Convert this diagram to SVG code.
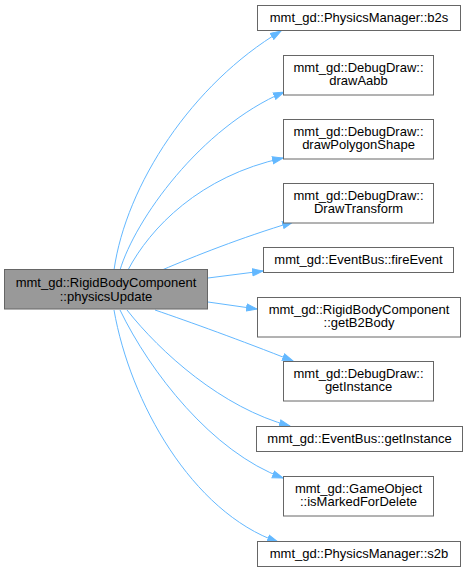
<svg xmlns="http://www.w3.org/2000/svg" width="468" height="572" viewBox="0 0 468 572">
<style>
.bg{fill:#ffffff}
.n rect{fill:#ffffff;stroke:#666666;stroke-width:1}
.n.main rect{fill:#999999}
.n text{font-family:"Liberation Sans",Arial,sans-serif;font-size:13px;fill:#000000;text-anchor:middle}
.e path{fill:none;stroke:#63b8ff;stroke-width:1;marker-end:url(#ah)}
</style>
<defs>
<marker id="ah" markerUnits="userSpaceOnUse" markerWidth="12" markerHeight="9" refX="11" refY="4" orient="auto" viewBox="0 0 12 8">
<path d="M0.5,0.5 L11,4 L0.5,7.5 Z" fill="#63b8ff" stroke="#63b8ff" stroke-width="1"/>
</marker>
</defs>
<rect class="bg" x="0" y="0" width="468" height="572"/>
<g id="connectors" class="e">
<path d="M114,270 C126,185 192,84 281,31"/>
<path d="M120,270 C135,220 200,128 284,92"/>
<path d="M128,270 C150,228 200,176 283,158"/>
<path d="M162,270 C195,256 240,238 293,222"/>
<path d="M208,278 L263,271"/>
<path d="M208,302 L257,309"/>
<path d="M155,310 C190,322 240,340 293,361"/>
<path d="M127,310 C160,352 222,408 290,426"/>
<path d="M120,310 C150,372 212,452 283,478"/>
<path d="M114,310 C130,402 192,512 278,542"/>
</g>
<g id="n_main" class="n main"><rect x="4.5" y="269.5" width="203" height="39.5"/><text x="106" y="287">mmt_gd::RigidBodyComponent</text><text x="106" y="300.5">::physicsUpdate</text></g>
<g id="n_b2s" class="n"><rect x="257.5" y="5.5" width="203" height="25"/><text x="359" y="22">mmt_gd::PhysicsManager::b2s</text></g>
<g id="n_drawAabb" class="n"><rect x="283.5" y="55.5" width="150" height="39.5"/><text x="358.5" y="71.5">mmt_gd::DebugDraw::</text><text x="358.5" y="85">drawAabb</text></g>
<g id="n_drawPolygonShape" class="n"><rect x="283.5" y="119.5" width="150" height="39.5"/><text x="358.5" y="135.5">mmt_gd::DebugDraw::</text><text x="358.5" y="149">drawPolygonShape</text></g>
<g id="n_DrawTransform" class="n"><rect x="283.5" y="183.5" width="150" height="39.5"/><text x="358.5" y="199.5">mmt_gd::DebugDraw::</text><text x="358.5" y="213">DrawTransform</text></g>
<g id="n_fireEvent" class="n"><rect x="263.5" y="247.5" width="190" height="25"/><text x="358.5" y="264">mmt_gd::EventBus::fireEvent</text></g>
<g id="n_getB2Body" class="n"><rect x="257.5" y="297.5" width="203" height="39.5"/><text x="359" y="313.5">mmt_gd::RigidBodyComponent</text><text x="359" y="327">::getB2Body</text></g>
<g id="n_dd_getInstance" class="n"><rect x="283.5" y="361.5" width="150" height="39.5"/><text x="358.5" y="377.5">mmt_gd::DebugDraw::</text><text x="358.5" y="391">getInstance</text></g>
<g id="n_eb_getInstance" class="n"><rect x="256.5" y="426.5" width="206" height="25"/><text x="359.5" y="443">mmt_gd::EventBus::getInstance</text></g>
<g id="n_isMarkedForDelete" class="n"><rect x="283.5" y="476.5" width="150" height="39.5"/><text x="358.5" y="492.5">mmt_gd::GameObject</text><text x="358.5" y="506">::isMarkedForDelete</text></g>
<g id="n_s2b" class="n"><rect x="257.5" y="541.5" width="203" height="25"/><text x="359" y="558">mmt_gd::PhysicsManager::s2b</text></g>
</svg>
